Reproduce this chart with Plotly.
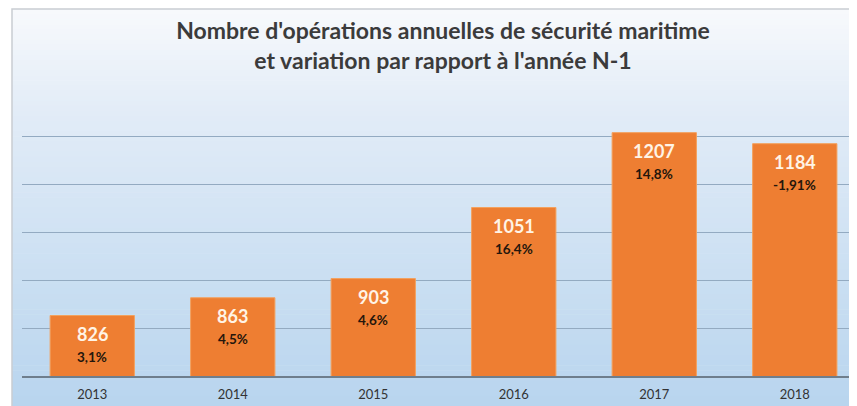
import plotly.graph_objects as go

years = ["2013", "2014", "2015", "2016", "2017", "2018"]
operations = [826, 863, 903, 1051, 1207, 1184]
variations = ["3,1%", "4,5%", "4,6%", "16,4%", "14,8%", "-1,91%"]

# page is drawn with an 8px body margin: figure coords = page coords - 8
OFF = 8
W, H = 857, 406
ML, MT = 22 - OFF, 88 - OFF
MB = H - (376 - OFF)
MR = W - (857 - OFF)
pw = W - ML - MR
ph = H - MT - MB

def px_to_paper_x(px):
    return (px - OFF - ML) / pw

def py_to_paper_y(py):
    return (H - MB - (py - OFF)) / ph

fig = go.Figure()
fig.add_trace(go.Bar(
    x=years, y=operations, width=0.6,
    marker=dict(color="#EE7E32", line=dict(color="#F3A15E", width=1)),
    hoverinfo="skip",
))

# gradient background as stripes
shapes = []
top_c = (247, 249, 252)
mid_c = (226, 236, 247)
bot_c = (183, 212, 238)
y0, y1 = 9, H + 10
n = 80
for i in range(n):
    t = i / (n - 1)
    if t < 0.25:
        u = t / 0.25
        c = tuple(round(top_c[k] + (mid_c[k] - top_c[k]) * u) for k in range(3))
    else:
        u = (t - 0.25) / 0.75
        c = tuple(round(mid_c[k] + (bot_c[k] - mid_c[k]) * u) for k in range(3))
    a = y0 + (y1 - y0) * i / n
    b = y0 + (y1 - y0) * (i + 1) / n + 0.6
    shapes.append(dict(type="rect", xref="paper", yref="paper",
                       x0=px_to_paper_x(12), x1=px_to_paper_x(W + 20),
                       y0=py_to_paper_y(b), y1=py_to_paper_y(a),
                       fillcolor="rgb(%d,%d,%d)" % c, line=dict(width=0), layer="below"))
# frame border
shapes.append(dict(type="rect", xref="paper", yref="paper",
                   x0=px_to_paper_x(12), x1=px_to_paper_x(W + 20),
                   y0=py_to_paper_y(H + 20), y1=py_to_paper_y(9),
                   fillcolor="rgba(0,0,0,0)", line=dict(color="#C9CDD2", width=1.5), layer="below"))

annotations = []
for i, (v, p) in enumerate(zip(operations, variations)):
    annotations.append(dict(x=i, y=v, xref="x", yref="y", text="<b>%d</b>" % v,
                            showarrow=False, yanchor="middle", yshift=-18.5,
                            font=dict(family="Lato", size=18, color="#FFF4E6")))
    annotations.append(dict(x=i, y=v, xref="x", yref="y", text="<b>%s</b>" % p,
                            showarrow=False, yanchor="middle", yshift=-41,
                            font=dict(family="Lato", size=13.5, color="#24160C")))

fig.update_layout(
    width=W, height=H,
    margin=dict(l=ML, r=MR, t=MT, b=MB),
    paper_bgcolor="white",
    plot_bgcolor="rgba(0,0,0,0)",
    showlegend=False,
    title=dict(
        text="<b>Nombre d'opérations annuelles de sécurité maritime<br>et variation par rapport à l'année N-1</b>",
        x=(443 - OFF) / W, xanchor="center", xref="container",
        y=1 - (39 - OFF) / H, yanchor="middle", yref="container",
        font=dict(family="Lato", size=23, color="#3B3B3B"),
    ),
    xaxis=dict(
        type="category", range=[-0.5, 5.443],
        showgrid=False, showline=True, linecolor="#6F7E8C", linewidth=1.5,
        ticks="", ticklabelstandoff=6,
        tickfont=dict(family="Lato", size=13, color="#333333"),
        fixedrange=True,
    ),
    yaxis=dict(
        range=[700, 1300], dtick=100, showticklabels=False,
        showgrid=True, gridcolor="#93AAC1", gridwidth=1, zeroline=False,
        fixedrange=True,
    ),
    shapes=shapes,
    annotations=annotations,
)

fig.write_html("out.html")
